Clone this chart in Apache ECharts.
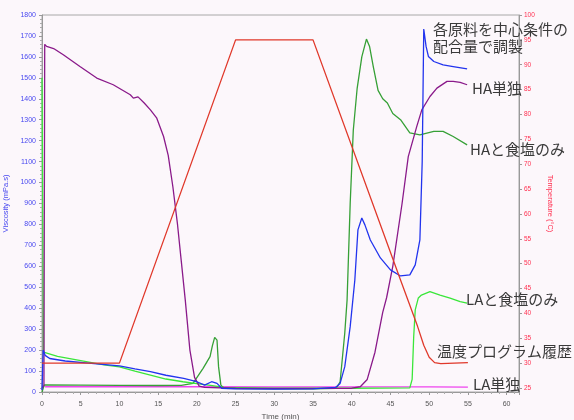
<!DOCTYPE html>
<html><head><meta charset="utf-8">
<script src="https://cdn.jsdelivr.net/npm/echarts@6/dist/echarts.min.js"></script>
<style>html,body{margin:0;padding:0;background:#fcf7fb}#c{width:574px;height:420px}</style>
</head><body><div id="c"></div>
<script>
// time axis (min)
const timeTicks = [0,5,10,15,20,25,30,35,40,45,50,55,60];
const viscTicks = [0,100,200,300,400,500,600,700,800,900,1000,1100,1200,1300,1400,1500,1600,1700,1800];
const tempTicks = [25,30,35,40,45,50,55,60,65,70,75,80,85,90,95,100];

// 温度プログラム履歴 (°C)
const tempT = [0, 10, 25, 35, 46.3, 48.5, 49.3, 50, 50.7, 51.5, 55];
const tempV = [30, 30, 95, 95, 46.7, 37.4, 33.6, 31.2, 30.1, 29.9, 30.1];

// HA単独 (mPa.s)
const haT = [0, 0.25, 0.35, 0.6, 1.5, 2.75, 4.9, 7.07, 9.2, 11.4, 11.8, 12.4, 13.2, 14.0, 14.8, 15.7, 16.3, 16.9, 17.5, 18.0, 18.5, 19.1, 19.7, 20.3, 21, 25, 30, 35, 40, 41.1, 42, 43, 44, 44.5, 45.3, 46.5, 47.3, 48.4, 49.05, 50.1, 51, 52.3, 53.1, 54, 54.9];
const haV = [20, 30, 1660, 1650, 1640, 1610, 1554, 1499, 1467, 1419, 1403, 1409, 1380, 1347, 1309, 1220, 1130, 980, 800, 620, 440, 200, 70, 28, 22, 18, 17, 17, 18, 25, 60, 190, 380, 450, 600, 900, 1124, 1268, 1347, 1411, 1451, 1483, 1483, 1478, 1467];

// HAと食塩のみ
const hasT = [0, 0.3, 5, 10, 15, 18, 19.5, 20.8, 21.7, 22.0, 22.3, 22.6, 22.8, 23.1, 23.5, 30, 35, 38, 38.5, 39.1, 39.4, 39.8, 40.2, 40.7, 41.3, 41.9, 42.3, 42.8, 43.4, 44, 44.6, 45.3, 46.3, 47.5, 48.8, 50.6, 51.8, 53.1, 54.9];
const hasV = [0, 34, 33, 32, 31, 32, 41, 113, 169, 220, 261, 248, 121, 33, 18, 15, 15, 18, 49, 282, 440, 900, 1250, 1450, 1600, 1685, 1650, 1550, 1440, 1400, 1380, 1330, 1300, 1237, 1228, 1244, 1244, 1220, 1180];

// 各原料を中心条件の配合量で調製
const ctrT = [0, 0.15, 0.4, 1, 3, 6, 10, 12, 14, 16, 18.3, 20, 21, 21.9, 22.3, 22.6, 23.2, 25, 30, 35, 37.9, 38.5, 39.1, 39.8, 40.4, 40.8, 41.3, 41.7, 42.4, 43.7, 45, 46.3, 47.5, 48.2, 48.8, 49.1, 49.3, 49.6, 49.9, 50.6, 51.8, 53.1, 54.9];
const ctrV = [10, 200, 175, 160, 148, 138, 125, 110, 97, 80, 65, 49, 33, 49, 45, 41, 18, 15, 14, 15, 22, 41, 121, 312, 535, 774, 831, 798, 726, 640, 583, 554, 559, 607, 726, 1100, 1733, 1650, 1602, 1578, 1562, 1554, 1543];

// LAと食塩のみ
const lasT = [0, 0.2, 2, 5, 8, 10, 12, 14, 16, 18.2, 20, 22, 23.5, 30, 40, 47.5, 47.8, 48.0, 48.2, 48.6, 49, 50.1, 51.4, 52.7, 54, 54.9];
const lasV = [1500, 190, 170, 150, 130, 120, 100, 81, 62, 49, 40, 30, 22, 18, 18, 20, 60, 264, 392, 449, 463, 479, 463, 448, 431, 424];

// LA単独
const laT = [0.4, 10, 20, 30, 40, 50, 55];
const laV = [25, 26, 25, 24, 24, 24, 23];

const zip = (a, b) => a.map((t, i) => [t, b[i]]);

const labelFont = 'Liberation Sans';
const chart = echarts.init(document.getElementById('c'), null, {renderer: 'canvas'});
const mk = (name, t, v, color, yIdx, z) => ({
  name, type: 'line', data: zip(t, v), yAxisIndex: yIdx, showSymbol: false, symbol: 'none',
  lineStyle: {color, width: 1.3}, itemStyle: {color}, z: z, animation: false
});

const annFont = '15px "Noto Sans CJK JP"';
const ann = (text, x, y) => ({type: 'text', x, y, z: 100, style: {text, font: annFont, fill: '#3a3a3a', verticalAlign: 'middle'}});

chart.setOption({
  backgroundColor: '#fcf7fb',
  animation: false,
  grid: {left: 42, right: 55, top: 15, bottom: 28, outerBoundsMode: 'none', containLabel: false,
    show: true, borderColor: '#a8a8a8', borderWidth: 1, backgroundColor: 'transparent'},
  xAxis: {
    type: 'value', min: 0, max: 61.6, interval: 5,
    name: 'Time (min)', nameLocation: 'middle', nameGap: 18,
    nameTextStyle: {color: '#555', fontSize: 8, fontFamily: labelFont},
    axisLine: {show: true, lineStyle: {color: '#999'}},
    axisTick: {show: true, length: 3, lineStyle: {color: '#999'}},
    minorTick: {show: true, splitNumber: 5, length: 2, lineStyle: {color: '#aaa'}},
    axisLabel: {color: '#555', fontSize: 7, fontFamily: labelFont, margin: 9, showMaxLabel: false,
      formatter: v => timeTicks.includes(v) ? String(v) : ''},
    splitLine: {show: false}
  },
  yAxis: [{
    type: 'value', min: 0, max: 1800, interval: 100, position: 'left',
    name: 'Viscosity (mPa.s)', nameLocation: 'middle', nameGap: 26,
    nameTextStyle: {color: '#4848f0', fontSize: 7.5, fontFamily: labelFont},
    axisLine: {show: true, lineStyle: {color: '#999'}},
    axisTick: {show: true, length: 3, lineStyle: {color: '#999'}},
    minorTick: {show: true, splitNumber: 5, length: 2, lineStyle: {color: '#aaa'}},
    axisLabel: {color: '#4848f0', fontSize: 7, fontFamily: labelFont, margin: 6,
      formatter: v => viscTicks.includes(v) ? String(v) : ''},
    splitLine: {show: false}
  }, {
    type: 'value', min: 24.2, max: 100, position: 'right',
    name: 'Temperature (°C)', nameLocation: 'middle', nameGap: 25, nameRotate: -90,
    nameTextStyle: {color: '#ff3050', fontSize: 7.5, fontFamily: labelFont},
    axisLine: {show: true, lineStyle: {color: '#999'}},
    axisTick: {show: true, length: 3, lineStyle: {color: '#999'}, customValues: tempTicks},
    axisLabel: {color: '#ff3050', fontSize: 6.5, fontFamily: labelFont, margin: 5, customValues: tempTicks,
      formatter: v => String(v)},
    splitLine: {show: false}
  }],
  series: [
    mk('LA単独', laT, laV, '#ee44ee', 0, 2),
    mk('HAと食塩のみ', hasT, hasV, '#36a036', 0, 3),
    mk('LAと食塩のみ', lasT, lasV, '#3ae63a', 0, 4),
    mk('HA単独', haT, haV, '#8a1a8a', 0, 5),
    mk('各原料を中心条件の配合量で調製', ctrT, ctrV, '#2234ee', 0, 6),
    mk('温度プログラム履歴', tempT, tempV, '#e0382a', 1, 7)
  ],
  graphic: [
    ann('各原料を中心条件の', 433, 29),
    ann('配合量で調製', 433, 46),
    ann('HA単独', 472, 88),
    ann('HAと食塩のみ', 470, 149),
    ann('LAと食塩のみ', 466, 299),
    ann('温度プログラム履歴', 437, 351),
    ann('LA単独', 473, 384)
  ]
});
</script></body></html>
